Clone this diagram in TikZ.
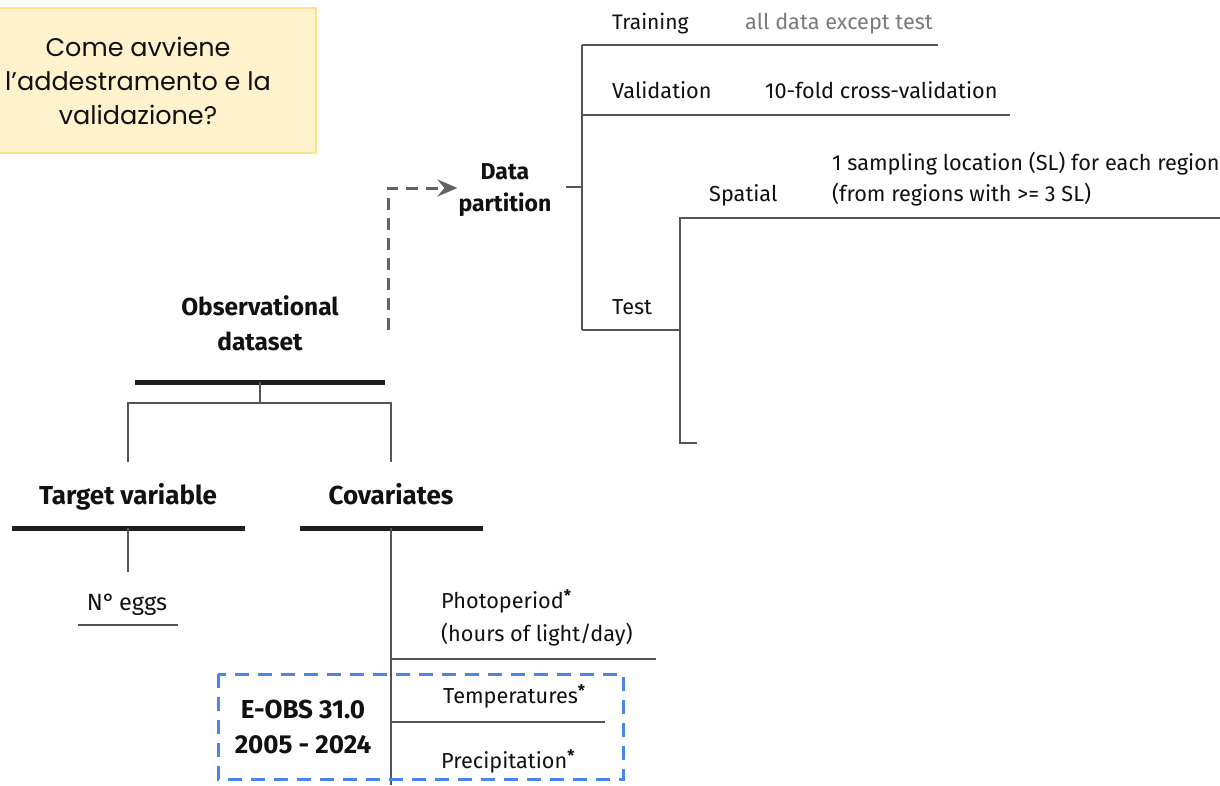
\documentclass[tikz,border=0pt]{standalone}
\usepackage{fontspec}
\setmainfont{Fira Sans}
\newfontfamily\boxfont{Poppins}
\usetikzlibrary{arrows.meta}
\definecolor{linegray}{HTML}{555555}
\definecolor{bardark}{HTML}{1E1E1E}
\definecolor{txt}{HTML}{111111}
\definecolor{softtxt}{HTML}{7A7A7A}
\definecolor{dashgray}{HTML}{636363}
\definecolor{eobsblue}{HTML}{4A86E8}
\definecolor{boxfill}{HTML}{FFF2CC}
\definecolor{boxborder}{HTML}{FFE08C}
\newcommand{\supast}{\raisebox{0.3em}{\fontsize{16}{16}\selectfont\bfseries *}}
\begin{document}
\begin{tikzpicture}[x=1pt,y=-1pt,
  thinline/.style={draw=linegray, line width=1.8pt},
  thickbar/.style={draw=bardark, line width=5pt},
  lbl/.style={anchor=base west, inner sep=0pt, text=txt, font=\fontsize{21.7}{31}\selectfont},
  hd/.style={inner sep=0pt, text=txt, align=center, font=\bfseries\fontsize{25}{35}\selectfont},
  dasharrow/.style={draw=dashgray, line width=3pt, dash pattern=on 12pt off 8pt, -{Stealth[length=20pt,width=17pt,inset=7pt]}},
  eobsbox/.style={draw=eobsblue, line width=3pt, dash pattern=on 14pt off 9pt}]
\useasboundingbox (0,0) rectangle (1220,785);
\fill[white] (0,0) rectangle (1220,785);

% question box
\node (q) [fill=boxfill, draw=boxborder, line width=1.5pt, minimum width=356pt, minimum height=145pt,
  inner sep=0pt, align=center, text=txt, font=\boxfont\fontsize{25.5}{34}\selectfont] at (138,80.5)
  {Come avviene\\l’addestramento e la\\validazione?};

% headings
\node[hd, font=\bfseries\fontsize{24.5}{35}\selectfont] (obs) at (260,323) {Observational\\dataset};
\node[hd, font=\bfseries\fontsize{23}{32}\selectfont] (dp) at (505,190) {Data\\partition};
\node[hd, anchor=base, font=\bfseries\fontsize{26}{35}\selectfont] (tv) at (128,504) {Target variable};
\node[hd, anchor=base, font=\bfseries\fontsize{26}{35}\selectfont] (cov) at (391,504) {Covariates};
\node[hd, font=\bfseries\fontsize{26}{35}\selectfont] (eobs) at (303,727) {E-OBS 31.0\\2005 - 2024};

% observational tree
\coordinate (ob1) at (135,382); \coordinate (ob2) at (385,382);
\draw[thickbar] (ob1) -- (ob2);
\coordinate (obs0) at (260,382); \coordinate (obs1) at (260,403);
\coordinate (tvtop) at (128,403); \coordinate (covtop) at (391,403);
\coordinate (tvbot) at (128,462); \coordinate (covbot) at (391,462);
\draw[thinline] (obs0) -- (obs1);
\draw[thinline] (tvbot) -- (tvtop) -- (covtop) -- (covbot);

% target variable
\coordinate (tb1) at (12,528); \coordinate (tb2) at (245,528);
\draw[thickbar] (tb1) -- (tb2);
\coordinate (tvs0) at (128,528); \coordinate (tvs1) at (128,572);
\draw[thinline] (tvs0) -- (tvs1);
\node[lbl, anchor=base, font=\fontsize{23.5}{31}\selectfont] (eggs) at (127,610) {N°\,eggs};
\coordinate (eg1) at (78,625); \coordinate (eg2) at (178,625);
\draw[thinline] (eg1) -- (eg2);

% covariates
\coordinate (cb1) at (300,528); \coordinate (cb2) at (483,528);
\draw[thickbar] (cb1) -- (cb2);
\coordinate (cv0) at (391,528); \coordinate (cv1) at (391,785);
\draw[thinline] (cv0) -- (cv1);
\node[lbl] (photo) at (441,608) {Photoperiod\supast};
\node[lbl] (hours) at (441,641) {(hours of light/day)};
\coordinate (ph1) at (391,659); \coordinate (ph2) at (656,659);
\draw[thinline] (ph1) -- (ph2);
\node[lbl] (temp) at (443,703) {Temperatures\supast};
\coordinate (te1) at (391,722); \coordinate (te2) at (605,722);
\draw[thinline] (te1) -- (te2);
\node[lbl] (prec) at (441,768) {Precipitation\supast};
\coordinate (eb1) at (218,674); \coordinate (eb2) at (623,779);
\draw[eobsbox] (eb1) rectangle (eb2);

% dashed arrow
\coordinate (da0) at (388,330);
\draw[dasharrow] (da0) |- ([xshift=-1pt,yshift=2pt]dp.west);

% data partition tree
\coordinate (dpt0) at (566,187); \coordinate (dpt1) at (582,187);
\draw[thinline] (dpt0) -- (dpt1);
\coordinate (pv1) at (582,45); \coordinate (pv2) at (582,330);
\draw[thinline] (pv1) -- (pv2);
\coordinate (tr2) at (938,45);
\draw[thinline] (pv1) -- (tr2);
\coordinate (va1) at (582,115); \coordinate (va2) at (1010,115);
\draw[thinline] (va1) -- (va2);
\coordinate (ts2) at (680,330);
\draw[thinline] (pv2) -- (ts2);
\coordinate (sp1) at (680,218); \coordinate (sp2) at (1220,218); \coordinate (sp3) at (680,443); \coordinate (sp4) at (697,443);
\draw[thinline] (sp2) -- (sp1) -- (sp3) -- (sp4);

\node[lbl, font=\fontsize{21}{31}\selectfont] (train) at (612,29) {Training};
\node[lbl, text=softtxt] (traind) at (745,29) {all data except test};
\node[lbl] (valid) at (612,98) {Validation};
\node[lbl] (validd) at (765,98) {10-fold cross-validation};
\node[lbl] (test) at (612,314) {Test};
\node[lbl] (spat) at (709,201) {Spatial};
\node[lbl] (spd1) at (832,170) {1 sampling location (SL) for each region};
\node[lbl] (spd2) at (832,201) {(from regions with >= 3 SL)};
\end{tikzpicture}
\end{document}
